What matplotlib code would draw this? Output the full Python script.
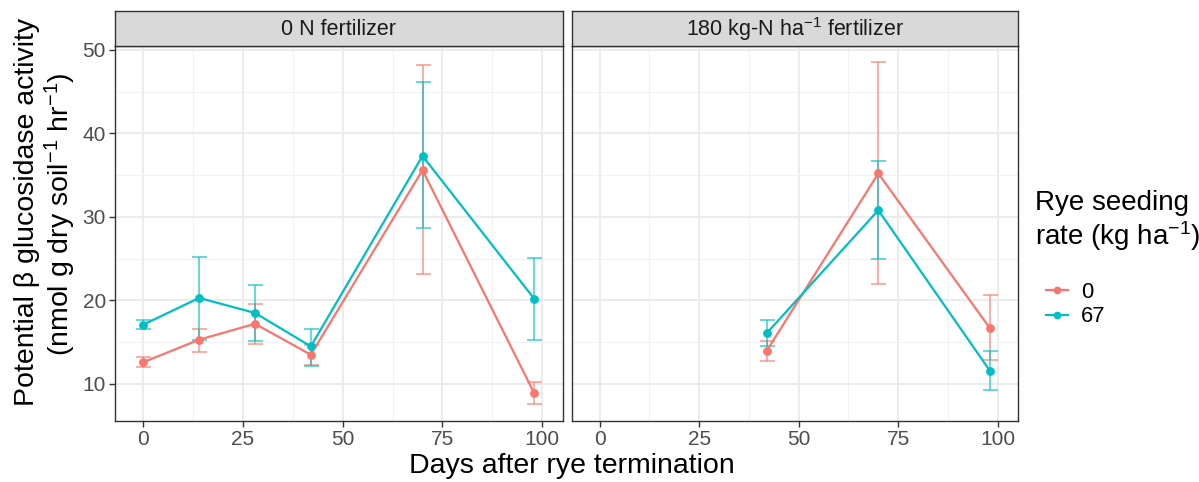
import matplotlib
matplotlib.use("Agg")
import matplotlib.pyplot as plt
import numpy as np

plt.rcParams['font.family'] = ['Liberation Sans', 'DejaVu Sans']
plt.rcParams['mathtext.fontset'] = 'custom'
plt.rcParams['mathtext.rm'] = 'Liberation Sans'
plt.rcParams['mathtext.it'] = 'Liberation Sans'
plt.rcParams['mathtext.default'] = 'regular'

# DATA
panels = ["0 N fertilizer", "180 kg-N ha$^{-1}$ fertilizer"]
rates = ["0", "67"]
colors = {"0": "#F8766D", "67": "#00BFC4"}

# panel 1: 0 N
days_0n = [0, 14, 28, 42, 70, 98]
mean_0n_r0 = [12.6, 15.3, 17.2, 13.5, 35.6, 8.9]
lo_0n_r0 = [12.0, 13.8, 14.8, 12.3, 23.2, 7.6]
hi_0n_r0 = [13.2, 16.6, 19.6, 14.7, 48.2, 10.2]
mean_0n_r67 = [17.1, 20.3, 18.5, 14.5, 37.3, 20.2]
lo_0n_r67 = [16.6, 15.3, 15.1, 12.2, 28.7, 15.3]
hi_0n_r67 = [17.6, 25.2, 21.8, 16.6, 46.2, 25.1]

# panel 2: 180 N
days_180n = [42, 70, 98]
mean_180n_r0 = [14.0, 35.2, 16.7]
lo_180n_r0 = [12.7, 22.0, 12.9]
hi_180n_r0 = [15.2, 48.5, 20.6]
mean_180n_r67 = [16.1, 30.8, 11.6]
lo_180n_r67 = [14.6, 25.0, 9.3]
hi_180n_r67 = [17.6, 36.7, 13.9]

panel_data = [
    {"0": (days_0n, mean_0n_r0, lo_0n_r0, hi_0n_r0),
     "67": (days_0n, mean_0n_r67, lo_0n_r67, hi_0n_r67)},
    {"0": (days_180n, mean_180n_r0, lo_180n_r0, hi_180n_r0),
     "67": (days_180n, mean_180n_r67, lo_180n_r67, hi_180n_r67)},
]

W, H = 1199, 482
fig = plt.figure(figsize=(W / 100, H / 100), dpi=100)

grey20 = "#333333"
grey30 = "#4D4D4D"
panel_px = [(115, 562.5), (571.5, 1018)]
top_px, bot_px = 45.7, 420.7
strip_top = 10.5

axes = []
for i, (l, r) in enumerate(panel_px):
    ax = fig.add_axes([l / W, 1 - bot_px / H, (r - l) / W, (bot_px - top_px) / H])
    sax = fig.add_axes([l / W, 1 - top_px / H, (r - l) / W, (top_px - strip_top) / H])
    sax.set_facecolor("#D9D9D9")
    sax.set_xticks([])
    sax.set_yticks([])
    for s in sax.spines.values():
        s.set_color(grey20)
        s.set_linewidth(1.0)
    sax.text(0.5, 0.47, panels[i], ha="center", va="center", fontsize=15.5, color="#1A1A1A",
             transform=sax.transAxes)

    for rate in rates:
        x, m, lo, hi = panel_data[i][rate]
        x = np.array(x)
        m = np.array(m)
        ax.errorbar(x, m, yerr=[m - np.array(lo), np.array(hi) - m], fmt="none",
                    ecolor=colors[rate], alpha=0.6, elinewidth=1.4, capsize=5.4, capthick=1.4, zorder=3)
        ax.plot(x, m, color=colors[rate], lw=1.6, marker="o", ms=5.3, zorder=4, label=rate)

    ax.set_xlim(-7.1, 105.1)
    ax.set_ylim(5.6, 50.5)
    ax.set_xticks([0, 25, 50, 75, 100])
    ax.set_xticks([12.5, 37.5, 62.5, 87.5], minor=True)
    ax.set_yticks([10, 20, 30, 40, 50])
    ax.set_yticks([15, 25, 35, 45], minor=True)
    ax.grid(which="major", color="#EBEBEB", lw=1.3, zorder=0)
    ax.grid(which="minor", color="#F2F2F2", lw=0.8, zorder=0)
    ax.set_axisbelow(True)
    ax.tick_params(which="major", length=4, width=1.0, color=grey20, labelsize=15,
                   labelcolor=grey30, pad=2.5)
    ax.tick_params(which="minor", length=0)
    for s in ax.spines.values():
        s.set_color(grey20)
        s.set_linewidth(1.0)
    if i == 1:
        ax.tick_params(axis="y", which="both", length=0, labelleft=False)
    axes.append(ax)

fig.text(572 / W, 1 - 466 / H, "Days after rye termination", ha="center", va="center",
         fontsize=20.5, color="black")
fig.text(27 / W, 1 - 212 / H, "Potential \u03b2 glucosidase activity", rotation=90,
         ha="center", va="center", fontsize=20.5)
fig.text(60 / W, 1 - 214 / H, "(nmol g dry soil$^{-1}$ hr$^{-1}$)", rotation=90,
         ha="center", va="center", fontsize=20.5)

# legend
fig.text(1035 / W, 1 - 203 / H, "Rye seeding", ha="left", va="center", fontsize=20)
fig.text(1035 / W, 1 - 236 / H, "rate (kg ha$^{-1}$)", ha="left", va="center", fontsize=20)
handles, labels = axes[0].get_legend_handles_labels()
leg = fig.legend(handles, labels, loc="upper left", bbox_to_anchor=(1046 / W, 1 - 282 / H),
                 frameon=False, fontsize=15.8, handlelength=1.0, handletextpad=0.6,
                 labelspacing=0.15, borderpad=0, borderaxespad=0)
for h in leg.legend_handles:
    h.set_markersize(4.5)

fig.savefig("out.png", dpi=100)
